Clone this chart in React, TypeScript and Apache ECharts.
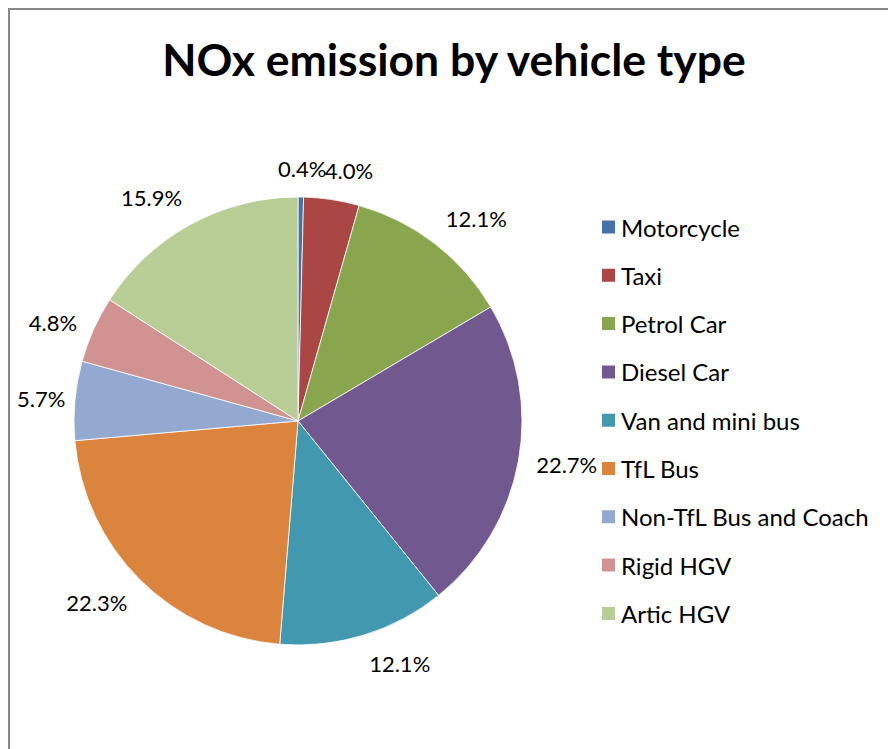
import React, { useEffect, useRef } from "react";
import * as echarts from "echarts";

const categories = [
  "Motorcycle",
  "Taxi",
  "Petrol Car",
  "Diesel Car",
  "Van and mini bus",
  "TfL Bus",
  "Non-TfL Bus and Coach",
  "Rigid HGV",
  "Artic HGV",
];
const shares = [0.4, 4.0, 12.1, 22.7, 12.1, 22.3, 5.7, 4.8, 15.9];
const colors = [
  "#4572A7",
  "#AA4643",
  "#89A54E",
  "#71588F",
  "#4198AF",
  "#DB843D",
  "#93A9CF",
  "#D19392",
  "#B9CD96",
];

const FONT = "Lato";
const CX = 288;
const CY = 411;
const R = 224;

export default function App() {
  const ref = useRef<HTMLDivElement>(null);
  useEffect(() => {
    if (!ref.current) return;
    const chart = echarts.init(ref.current, null, { renderer: "svg" });
    const total = shares.reduce((a, b) => a + b, 0);
    const option = {
      animation: false,
      backgroundColor: "#ffffff",
      color: colors,
      title: {
        text: "NOx emission by vehicle type",
        left: 439,
        textAlign: "center",
        top: 21,
        textStyle: {
          fontFamily: FONT,
          fontWeight: "bold",
          fontSize: 44.5,
          color: "#000000",
        },
      },
      legend: {
        orient: "vertical",
        left: 585,
        top: 200,
        itemWidth: 15,
        itemHeight: 15,
        itemGap: 24.3,
        icon: "rect",
        data: categories,
        textStyle: {
          fontFamily: FONT,
          fontSize: 24,
          color: "#000000",
          lineHeight: 24,
        },
      },
      series: [
        {
          type: "pie",
          center: [CX, CY],
          radius: R,
          startAngle: 90,
          clockwise: true,
          avoidLabelOverlap: false,
          itemStyle: { borderColor: "#ffffff", borderWidth: 0.8 },
          label: {
            show: true,
            position: "outside",
            fontFamily: FONT,
            fontSize: 22,
            color: "#000000",
            formatter: (p: any) => Number(p.value).toFixed(1) + "%",
          },
          labelLine: { show: false },
          labelLayout: (params: any) => {
            const i = params.dataIndex;
            let cum = 0;
            for (let k = 0; k < i; k++) cum += shares[k];
            const mid = ((cum + shares[i] / 2) / total) * Math.PI * 2;
            const dx = Math.sin(mid);
            const dy = -Math.cos(mid);
            const d = R + 18;
            const w = params.labelRect.width;
            const h = params.labelRect.height;
            const sx = Math.max(-1, Math.min(1, dx / 0.25));
            const sy =
              Math.sign(dy) * Math.max(0, Math.min(1, (Math.abs(dy) - 0.45) / 0.3));
            let x = CX + dx * d + (sx * w) / 2;
            const y = CY + dy * d + (sy * h) / 2;
            if (x - w / 2 < 7) x = 7 + w / 2;
            return { x, y, align: "center", verticalAlign: "middle" };
          },
          data: categories.map((name, i) => ({ name, value: shares[i] })),
        },
      ],
    };
    chart.setOption(option as any);
    return () => chart.dispose();
  }, []);
  return (
    <div
      style={{
        position: "fixed",
        left: 8,
        top: 8,
        width: 880,
        height: 741,
        borderLeft: "2px solid #878787",
        borderTop: "2px solid #878787",
        background: "#ffffff",
      }}
    >
      <div ref={ref} style={{ width: 878, height: 739 }} />
    </div>
  );
}
